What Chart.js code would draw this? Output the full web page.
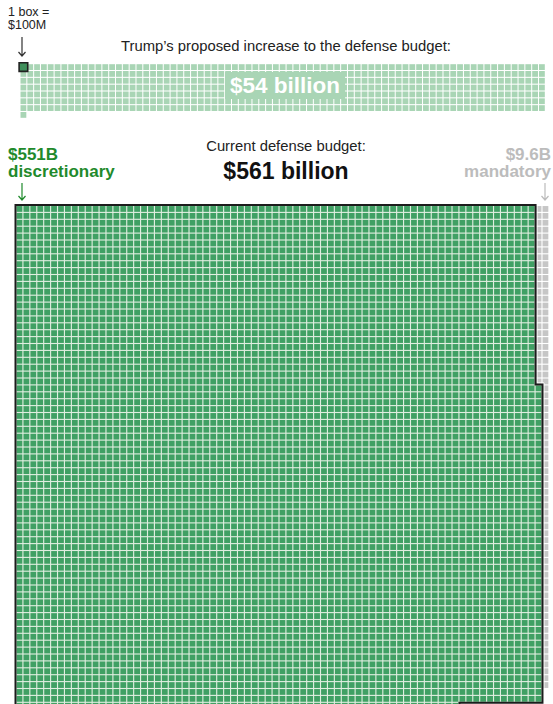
<!DOCTYPE html>
<html lang="en">
<head>
<meta charset="UTF-8">
<meta name="viewport" content="width=device-width, initial-scale=1.0">
<title>Defense budget</title>
<script src="https://cdn.jsdelivr.net/npm/chart.js"></script>
<style>
  html, body { margin: 0; padding: 0; background: #fff; }
  body { position: relative; width: 553px; height: 704px; overflow: hidden;
         font-family: "Liberation Sans", Arial, sans-serif; color: #222; }
  .lbl { position: absolute; white-space: nowrap; }
  .mid { transform: translateX(-50%); text-align: center; }
  canvas { position: absolute; left: 0; }
  svg { position: absolute; left: 0; top: 0; }
</style>
</head>
<body>
<div class="lbl" id="unitNote" style="left:8px; top:6px; font-size:12.5px; line-height:13px;"></div>
<div class="lbl mid" id="increaseHead" style="left:286px; top:38px; font-size:14.8px; line-height:16px;"></div>
<div class="lbl mid" id="currentHead" style="left:286px; top:138px; font-size:14.8px; line-height:16px;"></div>
<div class="lbl mid" id="currentTotal" style="left:286px; top:159px; font-size:23px; line-height:24px; font-weight:bold; color:#111;"></div>
<div class="lbl" id="discLabel" style="left:8px; top:146px; font-size:17px; line-height:17px; font-weight:bold; color:#1f8a2c;"></div>
<div class="lbl" id="mandLabel" style="right:2px; top:146px; font-size:17px; line-height:17px; font-weight:bold; color:#bcbcbc; text-align:right;"></div>

<canvas id="increaseChart" width="553" height="70" style="top:56px;"></canvas>
<canvas id="budgetChart" width="553" height="520" style="top:196px;"></canvas>

<div class="lbl mid" id="increaseTag" style="left:285px; top:72px; font-size:22.5px; line-height:27px; font-weight:bold; color:#fff; background:#a9d5b5; padding:0 5px;"></div>

<svg width="553" height="704">
  <g fill="none" stroke-width="1.2">
    <path d="M22 37 V56 M18.5 52 L22 56 L25.5 52" stroke="#333"/>
    <path d="M22 183 V200 M18.5 196 L22 200 L25.5 196" stroke="#1f8a2c"/>
    <path d="M545 183 V200 M541.5 196 L545 200 L548.5 196" stroke="#bbb"/>
  </g>
</svg>

<script>
// Figures in billions of dollars
const categories = ['Proposed increase', 'Discretionary', 'Mandatory'];
const budgetBillions = [54, 551, 9.6];
const currentBudgetBillions = 561;
const boxBillions = 0.1;                      // 1 box = $100M
const unitLabels = ['1 box =', '$100M'];
const headings = ['Trump\u2019s proposed increase to the defense budget:', 'Current defense budget:'];
const seriesNames = ['discretionary', 'mandatory'];

// Grid geometry
const CELL = 6.9;
const CELL_X_MAIN = 6.93;
const GAP = 1.1;
const COLS = 77;
const MANDATORY_TALL_ROWS = 70;               // mandatory boxes stacked in the last column
const CELL_RADIUS = (CELL - GAP) / Math.SQRT2;

const colors = {
  increase: '#a9d5b5',
  marker: '#3f8f5b',
  discretionary: '#40a064',
  discretionaryGap: '#e0eee0',
  mandatory: '#c6c6c6',
  outline: '#1c1c1c'
};

// Text
document.getElementById('unitNote').innerHTML = unitLabels.join('<br>');
document.getElementById('increaseHead').textContent = headings[0];
document.getElementById('currentHead').textContent = headings[1];
document.getElementById('currentTotal').textContent = '$' + currentBudgetBillions + ' billion';
document.getElementById('increaseTag').textContent = '$' + budgetBillions[0] + ' billion';
document.getElementById('discLabel').innerHTML = '$' + budgetBillions[1] + 'B<br>' + seriesNames[0];
document.getElementById('mandLabel').innerHTML = '$' + budgetBillions[2] + 'B<br>' + seriesNames[1];

const boxes = budgetBillions.map(v => Math.round(v / boxBillions));

// Row-major fill
function rowCells(n, cols) {
  const out = [];
  for (let i = 0; i < n; i++) out.push({ x: i % cols, y: Math.floor(i / cols) });
  return out;
}

// Discretionary fills rows left to right, mandatory hugs the right edge
function budgetCells(greenN, greyN) {
  const grey = [];
  const taken = new Set();
  for (let i = 0; i < greyN; i++) {
    const tall = i < MANDATORY_TALL_ROWS;
    const c = tall ? COLS - 1 : COLS - 2;
    const r = tall ? i : i - MANDATORY_TALL_ROWS;
    grey.push({ x: c, y: r });
    taken.add(c + ',' + r);
  }
  const green = [];
  let r = 0;
  while (green.length < greenN) {
    for (let c = 0; c < COLS - 1 && green.length < greenN; c++) {
      if (!taken.has(c + ',' + r)) green.push({ x: c, y: r });
    }
    r++;
  }
  return { green, grey };
}

function padding(canvasH, gridLeft, gridTop, cols, rows, cellX) {
  return {
    left: gridLeft,
    top: gridTop,
    right: 553 - gridLeft - cols * cellX,
    bottom: canvasH - gridTop - rows * CELL
  };
}

function baseOptions(pad, rows) {
  return {
    responsive: false,
    animation: false,
    devicePixelRatio: 1,
    events: [],
    layout: { padding: pad },
    plugins: { legend: { display: false }, tooltip: { enabled: false } },
    scales: {
      x: { type: 'linear', min: -0.5, max: COLS - 0.5, display: false },
      y: { type: 'linear', min: -0.5, max: rows - 0.5, reverse: true, display: false }
    }
  };
}

function cellSet(data, color, extra) {
  return Object.assign({
    data: data,
    pointStyle: 'rect',
    pointRadius: CELL_RADIUS,
    backgroundColor: color,
    borderWidth: 0,
    clip: false
  }, extra || {});
}

// Proposed increase
const incCells = rowCells(boxes[0], COLS);
const incRows = Math.ceil(boxes[0] / COLS);
new Chart(document.getElementById('increaseChart'), {
  type: 'scatter',
  data: {
    datasets: [
      cellSet([incCells[0]], colors.marker, { pointRadius: 8.6 / Math.SQRT2, borderWidth: 1.6, borderColor: '#222' }),
      cellSet(incCells, colors.increase)
    ]
  },
  options: baseOptions(padding(70, 20, 7.5, COLS, incRows, CELL), incRows)
});

// Current budget
const cur = budgetCells(boxes[1], boxes[2]);
const curRows = Math.max(...cur.green.map(p => p.y)) + 1;

// right edge of the discretionary block, per row
const rowWidths = [];
cur.green.forEach(p => { rowWidths[p.y] = Math.max(rowWidths[p.y] || 0, p.x + 1); });

function outlinePoints(xs, ys) {
  const pts = [[xs(-0.5), ys(-0.5)]];
  for (let r = 0; r < rowWidths.length; r++) {
    const right = xs(rowWidths[r] - 0.5);
    pts.push([right, ys(r - 0.5)], [right, ys(r + 0.5)]);
  }
  pts.push([xs(-0.5), ys(rowWidths.length - 0.5)]);
  // drop repeated and collinear points
  const clean = [];
  pts.forEach(p => {
    const last = clean[clean.length - 1];
    if (last && Math.abs(last[0] - p[0]) < 0.01 && Math.abs(last[1] - p[1]) < 0.01) return;
    clean.push(p);
  });
  const out = [];
  for (let i = 0; i < clean.length; i++) {
    const a = clean[(i - 1 + clean.length) % clean.length], b = clean[i], c = clean[(i + 1) % clean.length];
    const straight = (Math.abs(a[0] - b[0]) < 0.01 && Math.abs(b[0] - c[0]) < 0.01) ||
                     (Math.abs(a[1] - b[1]) < 0.01 && Math.abs(b[1] - c[1]) < 0.01);
    if (!straight) out.push(b);
  }
  return out;
}

// push a clockwise rectilinear polygon outward by d pixels
function offsetPath(ctx, pts, d) {
  const n = pts.length;
  const normal = (p, q) => [Math.sign(q[1] - p[1]), -Math.sign(q[0] - p[0])];
  ctx.beginPath();
  for (let i = 0; i < n; i++) {
    const a = pts[(i - 1 + n) % n], b = pts[i], c = pts[(i + 1) % n];
    const n1 = normal(a, b), n2 = normal(b, c);
    const x = b[0] + d * (n1[0] + n2[0]), y = b[1] + d * (n1[1] + n2[1]);
    if (i === 0) ctx.moveTo(x, y); else ctx.lineTo(x, y);
  }
  ctx.closePath();
}

const blockOutline = {
  id: 'blockOutline',
  beforeDatasetsDraw(chart) {
    const ctx = chart.ctx;
    const xs = v => chart.scales.x.getPixelForValue(v);
    const ys = v => chart.scales.y.getPixelForValue(v);
    ctx.save();
    ctx.fillStyle = colors.discretionaryGap;
    offsetPath(ctx, outlinePoints(xs, ys), 0);
    ctx.fill();
    ctx.restore();
  },
  afterDatasetsDraw(chart) {
    const ctx = chart.ctx;
    const xs = v => chart.scales.x.getPixelForValue(v);
    const ys = v => chart.scales.y.getPixelForValue(v);
    const pts = outlinePoints(xs, ys);
    ctx.save();
    ctx.lineJoin = 'miter';
    ctx.strokeStyle = '#fff';
    ctx.lineWidth = 1;
    offsetPath(ctx, pts, 2);
    ctx.stroke();
    ctx.strokeStyle = colors.outline;
    ctx.lineWidth = 2;
    offsetPath(ctx, pts, 0.5);
    ctx.stroke();
    ctx.restore();
  }
};

new Chart(document.getElementById('budgetChart'), {
  type: 'scatter',
  data: {
    datasets: [
      cellSet(cur.green, colors.discretionary),
      cellSet(cur.grey, colors.mandatory)
    ]
  },
  options: baseOptions(padding(520, 16, 9.5, COLS, curRows, CELL_X_MAIN), curRows),
  plugins: [blockOutline]
});
</script>
</body>
</html>
